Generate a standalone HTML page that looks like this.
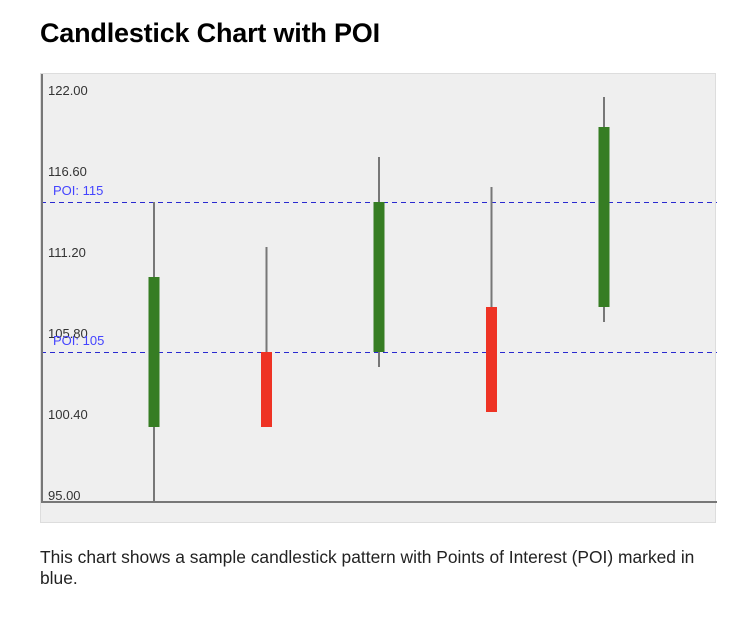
<!DOCTYPE html>
<html><head><meta charset="utf-8"><style>
body{margin:0;background:#fff;font-family:"Liberation Sans",Arial,sans-serif;}
h1{position:absolute;left:40px;top:18px;margin:0;font-size:27px;font-weight:bold;color:#000;letter-spacing:-0.2px;}
#chart{position:absolute;left:40px;top:73px;width:676px;height:450px;background:#efefef;border:1px solid #ddd;box-sizing:border-box;}
p{position:absolute;left:40px;top:547px;margin:0;width:672px;font-size:17.4px;line-height:21px;color:#222;}
</style></head><body>
<h1>Candlestick Chart with POI</h1>
<div id="chart">
<svg id="svg" width="676" height="450" xmlns="http://www.w3.org/2000/svg"></svg>
</div>
<p>This chart shows a sample candlestick pattern with Points of Interest (POI) marked in blue.</p>
<script>
const opens=[100,105,105,108,108];
const closes=[110,100,115,101,120];
const highs=[115,112,118,116,122];
const lows=[95,100,104,101,107];
const ticks=[95,100.4,105.8,111.2,116.6,122];
const pois=[115,105];
const ox=40,oy=73;
function y(v){return 501-(v-95)*15-oy;}
function x(i){return 153+i*112.5-ox;}
const svg=document.getElementById('svg');
const NS='http://www.w3.org/2000/svg';
function mk(t,a){const e=document.createElementNS(NS,t);for(const k in a)e.setAttribute(k,a[k]);svg.appendChild(e);return e;}
ticks.forEach(t=>{
const e=mk('text',{x:7,y:y(t)-2,'font-size':13,fill:'#333','font-family':'Liberation Sans, Arial, sans-serif'});


e.textContent=t.toFixed(2);
});
pois.forEach(p=>{
const l=mk('line',{x1:0,x2:676,y1:Math.round(y(p))+0.5,y2:Math.round(y(p))+0.5,stroke:'#2a2ad0','stroke-width':1,'stroke-dasharray':'5,4','shape-rendering':'crispEdges'});


const t=mk('text',{x:12,y:y(p)-7,'font-size':13,fill:'#4444ff','font-family':'Liberation Sans, Arial, sans-serif'});


t.textContent='POI: '+p;
});
opens.forEach((o,i)=>{
const c=closes[i];const up=c>=o;
const w=mk('line',{x1:x(i),x2:x(i),y1:y(highs[i]),y2:y(lows[i]),stroke:'#777','stroke-width':2});


const b=mk('rect',{x:x(i)-5.5,y:y(Math.max(o,c)),width:11,height:Math.abs(c-o)*15,fill:up?'#367d23':'#ee3324'});


});
const ax=mk('line',{x1:1,x2:1,y1:0,y2:y(95),stroke:'#777','stroke-width':2});


const bx=mk('line',{x1:0,x2:676,y1:y(95),y2:y(95),stroke:'#777','stroke-width':2});


</script>
</body></html>
